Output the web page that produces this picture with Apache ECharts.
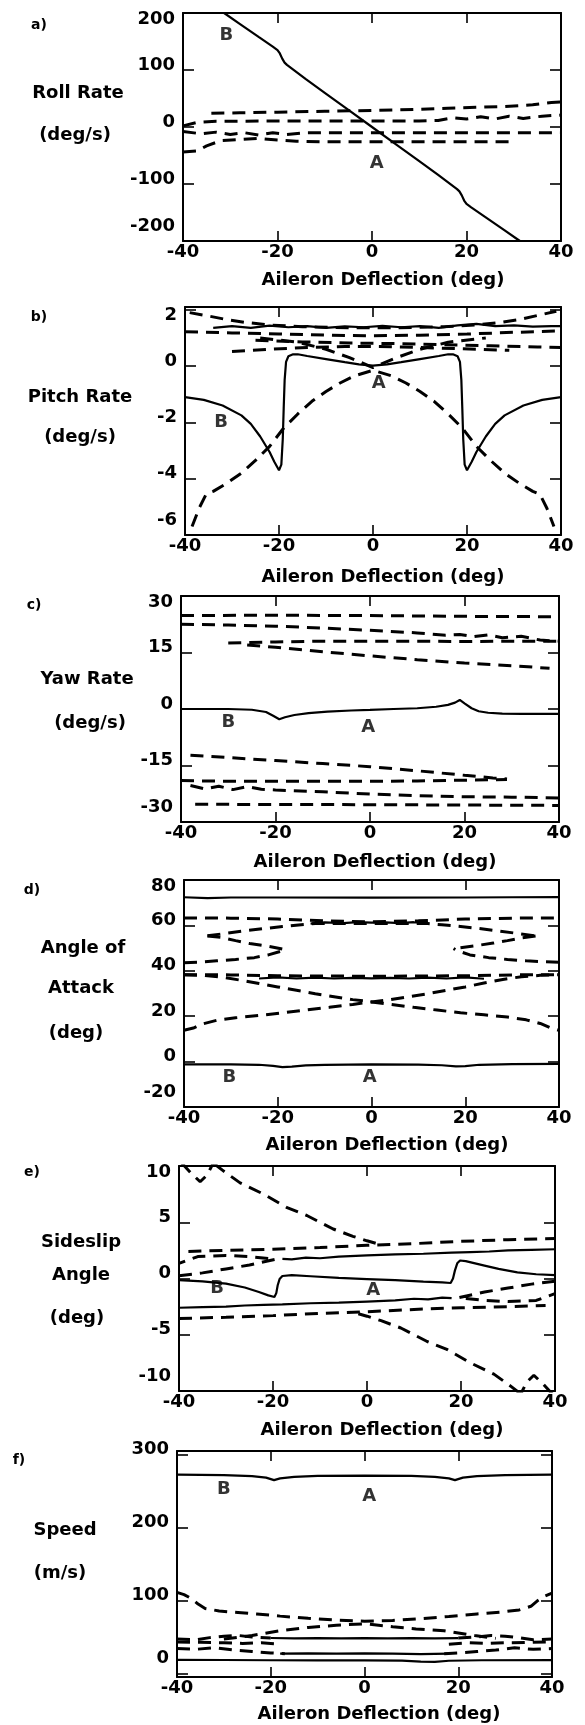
<!DOCTYPE html>
<html><head><meta charset="utf-8">
<script src="https://cdn.jsdelivr.net/npm/echarts@6/dist/echarts.min.js"></script>
<style>html,body{margin:0;padding:0;background:#fff}#c{width:585px;height:1725px}</style>
</head><body><div id="c"></div>
<script>
// ---------- shared axis ----------
const xTicks = [-40, -20, 0, 20, 40];

// ---------- a) Roll rate ----------
const rollB = [[-31.3,200],[-28,181],[-24,158],[-21,141],[-20,135],[-19.5,129],[-19,120],[-18.5,113],[-18,109],[-14,84],[-10,60],[-5,30],[0,0],[5,-30],[10,-60],[14,-84],[18,-109],[18.5,-113],[19,-120],[19.5,-129],[20,-135],[21,-141],[24,-158],[28,-181],[31.3,-200]];
const rollD1 = [[-34,24],[-28,25],[-20,26],[-10,27.5],[0,29],[10,31],[16,33],[22,34.5],[28,36],[34,39],[38,43],[40,44]];
const rollD2 = [[-40,2],[-37,8],[-33,10],[-20,10.5],[-10,10.5],[0,10.5],[10,10.5],[14,11.5],[17,16],[20,14],[23,18],[26,14],[29,19],[32,15],[36,19],[40,21]];
const rollD3 = [[-40,-8],[-36,-12],[-33,-9],[-30,-13],[-27,-10],[-24,-14],[-21,-10],[-18,-13],[-14,-10],[0,-10],[20,-10],[40,-10]];
const rollD4 = [[-40,-44],[-37,-42],[-35,-33],[-32,-24],[-28,-22],[-24,-20],[-20,-23],[-16,-25],[-10,-26],[0,-26],[10,-26],[20,-26],[29,-26]];
const rollMarks = [['B',-30.8,161],['A',1.0,-64]];

// ---------- b) Pitch rate ----------
const pitchB = [[-40,-1.1],[-36,-1.2],[-32,-1.4],[-28,-1.75],[-26,-2.05],[-24,-2.5],[-22,-3.05],[-21,-3.4],[-20,-3.7],[-19.5,-3.5],[-19.2,-2.6],[-19,-1.5],[-18.8,-0.5],[-18.5,0.15],[-18,0.35],[-17,0.42],[-16,0.42],[-14,0.36],[-10,0.25],[-6,0.14],[-3,0.06],[0,0.02],[3,0.06],[6,0.14],[10,0.25],[14,0.36],[16,0.42],[17,0.42],[18,0.35],[18.5,0.15],[18.8,-0.5],[19,-1.5],[19.2,-2.6],[19.5,-3.5],[20,-3.7],[21,-3.4],[22,-3.05],[24,-2.5],[26,-2.05],[28,-1.75],[32,-1.4],[36,-1.2],[40,-1.1]];
const pitchS = [[-34,1.36],[-30,1.42],[-26,1.36],[-22,1.44],[-18,1.38],[-14,1.42],[-10,1.36],[-6,1.41],[-2,1.38],[2,1.43],[6,1.38],[10,1.42],[14,1.36],[18,1.45],[22,1.5],[26,1.42],[30,1.45],[34,1.4],[38,1.42],[40,1.42]];
const pitchA = [[-38.5,-5.7],[-37,-5.05],[-35.5,-4.55],[-34,-4.45],[-31,-4.15],[-28,-3.8],[-25,-3.35],[-22,-2.85],[-19,-2.2],[-16,-1.7],[-13,-1.25],[-10,-0.9],[-7,-0.6],[-4,-0.35],[0,-0.15],[4,-0.35],[7,-0.6],[10,-0.9],[13,-1.25],[16,-1.7],[19,-2.2],[22,-2.85],[25,-3.35],[28,-3.8],[31,-4.15],[34,-4.45],[35.5,-4.55],[37,-5.05],[38.5,-5.7]];
const pitchX = [[-24,1.0],[-16,0.85],[-10,0.6],[-5,0.3],[0,-0.05],[5,0.3],[10,0.6],[16,0.85],[24,1.0]];
const pitchU1 = [[-39,1.9],[-35,1.78],[-31,1.65],[-27,1.55],[-22,1.46],[-15,1.4],[-5,1.36],[5,1.36],[15,1.4],[22,1.46],[27,1.55],[31,1.65],[35,1.8],[39,1.95]];
const pitchU3 = [[-40,1.22],[-30,1.18],[-20,1.14],[-10,1.1],[0,1.08],[10,1.1],[20,1.14],[30,1.2],[40,1.25]];
const pitchU4 = [[-25,0.92],[-15,0.86],[-5,0.82],[5,0.8],[15,0.76],[25,0.72],[35,0.68],[40,0.66]];
const pitchU5 = [[-30,0.52],[-22,0.6],[-14,0.66],[-6,0.7],[0,0.7],[6,0.68],[14,0.64],[22,0.6],[29,0.56]];
const pitchMarks = [['B',-32.3,-2.0],['A',1.2,-0.6]];

// ---------- c) Yaw rate ----------
const yawB = [[-40,0],[-30,0],[-25,-0.2],[-22,-0.8],[-20.5,-1.8],[-19.2,-2.7],[-18,-2.2],[-16,-1.6],[-13,-1.1],[-9,-0.7],[-4,-0.4],[0,-0.25],[5,0],[10,0.2],[14,0.6],[16.5,1.1],[18,1.7],[19,2.4],[20,1.5],[21.5,0.2],[23,-0.6],[25,-1.0],[28,-1.25],[32,-1.3],[40,-1.3]];
const yawU1 = [[-40,24.8],[-20,24.9],[0,24.8],[20,24.6],[40,24.5]];
const yawU2 = [[-40,22.5],[-30,22.3],[-20,22],[-10,21.5],[0,20.9],[10,20.2],[16,19.6],[19,19.8],[22,19.2],[25,19.7],[28,18.9],[32,19.3],[36,18.3],[40,18]];
const yawU3 = [[-30,17.5],[-20,17.8],[-10,18],[0,18],[10,18],[20,17.9],[30,18],[40,18]];
const yawU4 = [[-26,17],[-20,16.4],[-10,15.2],[0,14.1],[10,13.1],[20,12.2],[30,11.5],[38,10.8]];
const yawL1 = [[-38,-12.3],[-30,-12.9],[-20,-13.7],[-10,-14.5],[0,-15.3],[10,-16.4],[20,-17.6],[26,-18.3],[29,-18.6]];
const yawL2 = [[-40,-19],[-30,-19.2],[-20,-19.2],[-10,-19.2],[0,-19.2],[10,-19.1],[20,-18.9],[29,-18.7]];
const yawL3 = [[-38,-20.3],[-35,-21.2],[-32,-20.5],[-29,-21.4],[-26,-20.6],[-23,-21.3],[-20,-21.5],[-10,-22],[0,-22.6],[10,-23],[20,-23.3],[30,-23.4],[40,-23.6]];
const yawL4 = [[-37,-25.3],[0,-25.4],[40,-25.6]];
const yawMarks = [['B',-30,-3.5],['A',-0.4,-4.9]];

// ---------- d) Angle of attack ----------
const aoaS1 = [[-40,72.4],[-35,72],[-30,72.3],[-20,72.3],[0,72.2],[20,72.3],[30,72.4],[40,72.5]];
const aoaS2 = [[-13,60.8],[-10,61.3],[-6,61],[-3,61.4],[0,61.2],[3,61.3],[6,61],[9,61.4],[12,60.8]];
const aoaS36 = [[-24,36.6],[-20,37.1],[-16,36.6],[-12,37],[-8,36.6],[-4,36.9],[0,36.7],[4,36.9],[8,36.6],[12,37],[16,36.6],[20,37.1],[24,36.5]];
const aoaS0 = [[-40,-1.2],[-30,-1.2],[-24,-1.4],[-21,-1.9],[-19,-2.4],[-17,-2.2],[-14,-1.7],[-10,-1.4],[0,-1.2],[10,-1.3],[15,-1.6],[18,-2.1],[20,-2],[23,-1.4],[30,-1.1],[40,-1]];
const aoaD63 = [[-40,63.3],[-30,63.2],[-20,62.8],[-10,62],[0,61.6],[10,62],[20,62.8],[30,63.2],[40,63.3]];
const aoaArc = [[-35,55.4],[-31,56.5],[-27,57.6],[-23,58.6],[-19,59.5],[-15,60.3],[-12,60.8],[12,60.8],[15,60.3],[19,59.5],[23,58.6],[27,57.6],[31,56.5],[35,55.4]];
const aoaC2L = [[-35,55.3],[-32,54.7],[-29,53.3],[-26,52],[-22,50.8],[-18.5,49.4]];
const aoaC3L = [[-40,43.6],[-37,43.8],[-33,44.4],[-29,45],[-25,45.8],[-22,47],[-19.5,48.5],[-18.5,49.4]];
const aoaC2R = [[35,55.3],[32,54.5],[29,53.3],[26,52.2],[22,51],[17.5,49.8]];
const aoaC3R = [[40,43.8],[37,44],[33,44.4],[29,45],[25,45.8],[21,47],[18.5,48.7],[17.5,49.8]];
const aoaD38 = [[-40,38.3],[-30,38.2],[-20,37.8],[0,37.6],[20,37.8],[30,38.2],[40,38.3]];
const aoaX1 = [[-40,13.8],[-38,14.8],[-36,16.6],[-33,18.2],[-29,19.3],[-24,20.3],[-19,21.5],[-14,22.7],[-9,23.9],[-4,25.2],[0,26.3],[4,27.3],[8,28.6],[12,29.9],[16,31.4],[20,32.9],[24,34.6],[28,36.2],[32,37.4],[36,38],[40,38.3]];
const aoaX2 = [[-40,38.3],[-36,38],[-32,37.2],[-28,35.9],[-24,34.4],[-20,32.9],[-16,31.4],[-12,29.9],[-8,28.6],[-4,27.3],[0,26.3],[4,25.2],[9,23.9],[14,22.7],[19,21.5],[24,20.6],[29,19.6],[33,18.4],[36,16.8],[38,15],[40,13.8]];
const aoaMarks = [['B',-30.3,-7.1],['A',-0.4,-7.1]];

// ---------- e) Sideslip angle ----------
const betaB = [[-40,-0.15],[-35,-0.25],[-30,-0.45],[-26,-0.8],[-23,-1.2],[-21,-1.5],[-19.7,-1.65],[-19.3,-1.3],[-19,-0.6],[-18.6,-0.05],[-18,0.22],[-16,0.3],[-12,0.2],[-6,0.05],[0,-0.05],[6,-0.15],[12,-0.28],[16,-0.35],[17.8,-0.4],[18.3,0],[18.7,0.7],[19.2,1.35],[19.8,1.6],[21,1.55],[23,1.35],[25,1.15],[28,0.85],[32,0.55],[36,0.38],[40,0.3]];
const betaS2 = [[-18,1.75],[-16,1.7],[-13,1.85],[-10,1.8],[-6,1.95],[0,2.05],[6,2.15],[12,2.2],[18,2.3],[22,2.35],[26,2.4],[30,2.5],[35,2.55],[40,2.6]];
const betaS3 = [[-40,-2.6],[-35,-2.55],[-30,-2.5],[-26,-2.4],[-22,-2.35],[-18,-2.3],[-12,-2.2],[-6,-2.15],[0,-2.05],[6,-1.95],[10,-1.8],[13,-1.85],[16,-1.7],[18,-1.75]];
const betaD1 = [[-38,2.4],[-30,2.5],[-20,2.6],[-10,2.75],[0,2.95],[10,3.1],[20,3.3],[30,3.45],[40,3.55]];
const betaD2 = [[-40,0.25],[-35,0.5],[-30,0.85],[-25,1.2],[-19.5,1.7],[-25,1.95],[-30,2.05],[-36,1.95],[-40,1.35]];
const betaD3 = [[40,-0.25],[35,-0.5],[30,-0.85],[25,-1.2],[19.5,-1.7],[25,-1.95],[30,-2.05],[36,-1.95],[40,-1.35]];
const betaD4 = [[-40,-3.55],[-30,-3.45],[-20,-3.3],[-10,-3.1],[0,-2.95],[10,-2.75],[20,-2.6],[30,-2.5],[38,-2.4]];
const betaBig1 = [[-32.5,10.2],[-30.5,9.55],[-27,8.5],[-22,7.5],[-17,6.3],[-12.8,5.6],[-7.2,4.4],[-3,3.75],[0,3.35],[3.5,2.95]];
const betaBig2 = [[32.5,-10.2],[30.5,-9.55],[27,-8.5],[22,-7.5],[17,-6.3],[12.8,-5.6],[7.2,-4.4],[3,-3.75],[0,-3.35],[-3.5,-2.95]];
const betaV1 = [[-39.5,10.3],[-37.5,9.4],[-35.5,8.6],[-34,9.2],[-32.8,10.2]];
const betaV2 = [[39.5,-10.3],[37.5,-9.4],[35.5,-8.6],[34,-9.2],[32.8,-10.2]];
const betaMarks = [['B',-31.9,-0.85],['A',1.3,-1.05]];

// ---------- f) Speed ----------
const speedS1 = [[-40,272.5],[-30,272],[-24,270.5],[-21,268.5],[-19.3,265],[-18,267.5],[-15,269.5],[-10,270.8],[0,271.3],[10,270.8],[15,269.5],[18,267.5],[19.3,265],[21,268.5],[24,270.5],[30,272],[40,272.5]];
const speedS2 = [[-20,48.5],[-15,48],[-10,48.3],[-5,48],[0,48.2],[5,48],[10,48.3],[15,48],[20,48.3]];
const speedS3 = [[-18,27],[-12,27.5],[-6,27],[0,27.3],[6,27],[12,26.5],[18,27]];
const speedS4 = [[-40,18.5],[-30,18.3],[-20,18],[-10,17.8],[0,17.8],[8,17.5],[12,16],[15,15.8],[18,17.3],[25,18],[40,18.2]];
const speedD1 = [[-40,111],[-38.5,108],[-37,103],[-35.5,95],[-34,89],[-31,85.5],[-27,83.5],[-23,81.5],[-18,78.5],[-12,75.5],[-6,73],[0,71.5],[6,72.5],[12,75],[18,78],[24,81.5],[29,84],[33,87],[35.5,92],[37,100],[38.5,106],[40,110]];
const speedD2 = [[-30,47],[-24,52],[-18,58.5],[-12,63],[-6,66],[0,68],[6,64],[11,61],[17,58.5],[23.5,52],[28,48]];
const speedD3L = [[-40,47],[-36,46],[-33,49],[-30,51],[-27,52],[-24,50],[-20,48.5]];
const speedD3R = [[20,48.5],[24,50],[27,52],[30,51],[33,49],[36,46],[40,47]];
const speedD4L = [[-40,43],[-35,42.5],[-30,42],[-26,41],[-22,42],[-18,40]];
const speedD4R = [[18,40],[22,42],[26,41],[30,42],[35,42.5],[40,43]];
const speedD5L = [[-40,34],[-36,33],[-32,35],[-28,32],[-24,30],[-20,28],[-17,27]];
const speedD5R = [[17,27],[20,28],[24,30],[28,32],[32,35],[36,33],[40,34]];
const speedMarks = [['B',-30,253],['A',1.0,243]];

// ---------- layout / build ----------
const FONT = '"DejaVu Sans", Verdana, sans-serif';
const panels = [
  {grid:{left:183,top:13,width:378,height:228}, y:{min:-200,max:200,interval:100}, hi:200, lo:-200,
   solid:[rollB], dashed:[rollD1,rollD2,rollD3,rollD4], marks:rollMarks},
  {grid:{left:185,top:307,width:376,height:228}, y:{min:-6,max:2.1,custom:[-6,-4,-2,0,2]}, hi:2, lo:-6,
   solid:[pitchB,pitchS], dashed:[pitchA,pitchX,pitchU1,pitchU3,pitchU4,pitchU5], marks:pitchMarks},
  {grid:{left:181,top:596,width:378,height:226}, y:{min:-30,max:30,interval:15}, hi:30, lo:-30,
   solid:[yawB], dashed:[yawU1,yawU2,yawU3,yawU4,yawL1,yawL2,yawL3,yawL4], marks:yawMarks},
  {grid:{left:184,top:880,width:375,height:227}, y:{min:-20,max:80,interval:20}, hi:80, lo:-20,
   solid:[aoaS1,aoaS2,aoaS36,aoaS0], dashed:[aoaD63,aoaArc,aoaC2L,aoaC3L,aoaC2R,aoaC3R,aoaD38,aoaX1,aoaX2], marks:aoaMarks},
  {grid:{left:179,top:1166,width:376,height:225}, y:{min:-10,max:10,interval:5}, hi:10, lo:-10,
   solid:[betaB,betaS2,betaS3], dashed:[betaD1,betaD2,betaD3,betaD4,betaBig1,betaBig2,betaV1,betaV2], marks:betaMarks},
  {grid:{left:177,top:1451,width:375,height:226}, y:{min:-5,max:305,custom:[0,100,200,300]}, hi:null, lo:0,
   solid:[speedS1,speedS2,speedS3,speedS4], dashed:[speedD1,speedD2,speedD3L,speedD3R,speedD4L,speedD4R,speedD5L,speedD5R], marks:speedMarks}
];

const texts = [
  ['a)',39,25,14],['Roll Rate',78,93,18],['(deg/s)',75,135,18],['Aileron Deflection (deg)',383,280,18],
  ['b)',39,317,14],['Pitch Rate',80,397,18],['(deg/s)',80,437,18],['Aileron Deflection (deg)',383,577,18],
  ['c)',34,605,14],['Yaw Rate',87,679,18],['(deg/s)',90,723,18],['Aileron Deflection (deg)',375,862,18],
  ['d)',32,890,14],['Angle of',83,948,18],['Attack',81,988,18],['(deg)',76,1033,18],['Aileron Deflection (deg)',387,1145,18],
  ['e)',32,1172,14],['Sideslip',81,1242,18],['Angle',81,1275,18],['(deg)',77,1318,18],['Aileron Deflection (deg)',382,1430,18],
  ['f)',19,1460,14],['Speed',65,1530,18],['(m/s)',60,1573,18],['Aileron Deflection (deg)',379,1714,18]
];

const grids = [], xAxes = [], yAxes = [], series = [];
const rs = {fontSize:18, fontWeight:'bold', fontFamily:FONT, color:'#000'};
panels.forEach((p, i) => {
  grids.push(Object.assign({}, p.grid, {containLabel:false, outerBoundsMode:'none'}));
  const line = {show:true, onZero:false, lineStyle:{color:'#000', width:2}};
  const tickX = {show:true, inside:true, length:10, lineStyle:{color:'#000', width:1.6}};
  const xBase = {type:'value', gridIndex:i, min:xTicks[0], max:xTicks[xTicks.length-1], interval:xTicks[1]-xTicks[0],
    axisLine:line, axisTick:tickX, splitLine:{show:false}};
  xAxes.push(Object.assign({}, xBase, {position:'bottom',
    axisLabel:{show:true, margin:2, color:'#000', fontSize:18, fontWeight:'bold', fontFamily:FONT}}));
  xAxes.push(Object.assign({}, xBase, {position:'top', axisLabel:{show:false}}));
  const tickY = {show:true, inside:true, length:11, lineStyle:{color:'#000', width:1.6}};
  const yBase = {type:'value', gridIndex:i, min:p.y.min, max:p.y.max, axisLine:line, splitLine:{show:false}};
  if (p.y.interval) yBase.interval = p.y.interval;
  if (p.y.custom) tickY.customValues = p.y.custom;
  const lbl = {show:true, margin:8, color:'#000', fontSize:18, fontWeight:'bold', fontFamily:FONT,
    formatter: v => (v === p.hi ? '{hi|' + v + '}' : v === p.lo ? '{lo|' + v + '}' : '{md|' + v + '}'),
    rich:{md:Object.assign({padding:[0,0,10,0]}, rs), hi:Object.assign({padding:[12,0,0,0]}, rs), lo:Object.assign({padding:[0,0,30,0]}, rs)}};
  if (p.y.custom) lbl.customValues = p.y.custom;
  yAxes.push(Object.assign({}, yBase, {position:'left', axisTick:tickY, axisLabel:lbl}));
  yAxes.push(Object.assign({}, yBase, {position:'right', axisTick:tickY, axisLabel:{show:false}}));
  const xi = i * 2, yi = i * 2;
  p.dashed.forEach(d => series.push({type:'line', xAxisIndex:xi, yAxisIndex:yi, data:d, symbol:'none', silent:true,
    lineStyle:{color:'#000', width:3, type:[13,8]}}));
  p.solid.forEach(d => series.push({type:'line', xAxisIndex:xi, yAxisIndex:yi, data:d, symbol:'none', silent:true,
    lineStyle:{color:'#000', width:2.2}}));
  series.push({type:'scatter', xAxisIndex:xi, yAxisIndex:yi, symbolSize:0, silent:true, itemStyle:{color:'#000'},
    data:p.marks.map(m => ({name:m[0], value:[m[1], m[2]]})),
    label:{show:true, position:[0,0], align:'center', verticalAlign:'middle', formatter:'{b}', color:'#000',
      textBorderWidth:0, fontSize:18, fontWeight:'bold', fontFamily:FONT}});
});

const chart = echarts.init(document.getElementById('c'), null, {renderer:'canvas'});
chart.setOption({
  animation:false,
  backgroundColor:'#fff',
  grid:grids, xAxis:xAxes, yAxis:yAxes, series:series,
  graphic:texts.map(t => ({type:'text', x:t[1], y:t[2], silent:true,
    style:{text:t[0], font:'bold ' + t[3] + 'px ' + FONT, fill:'#000', textAlign:'center', textVerticalAlign:'middle', align:'center', verticalAlign:'middle'}}))
});
</script></body></html>
